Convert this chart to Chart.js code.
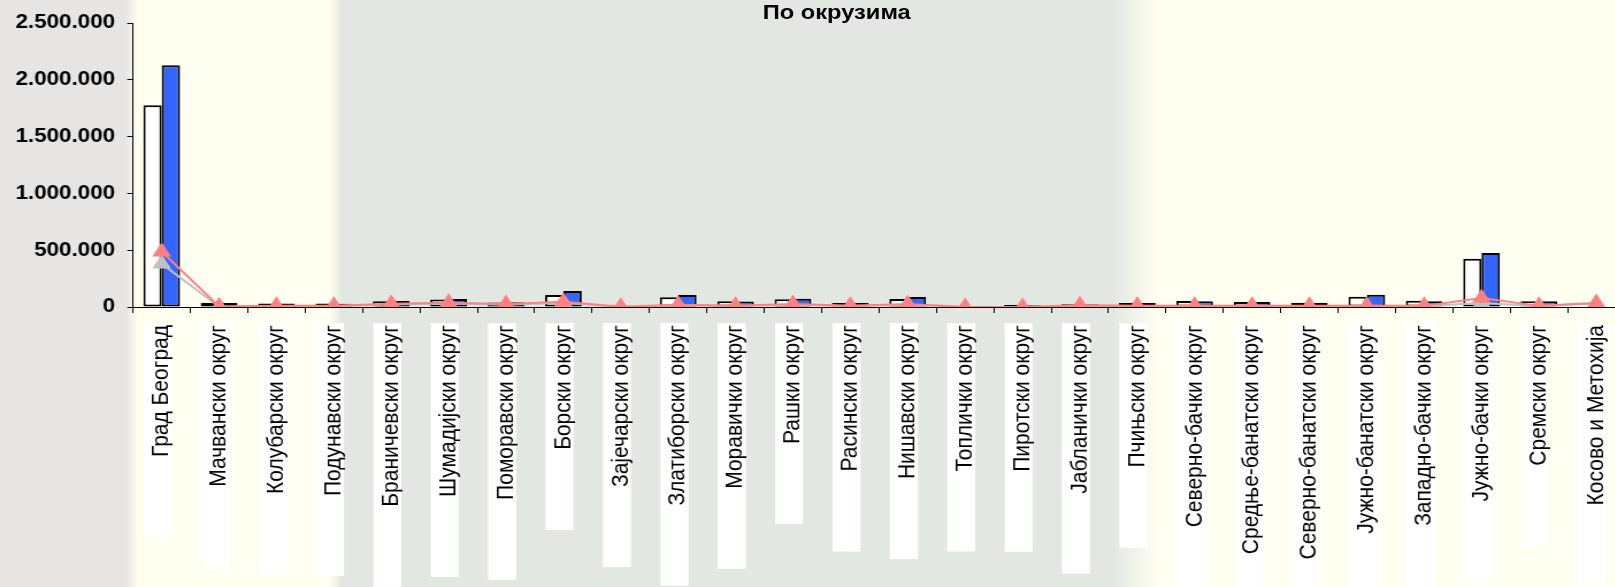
<!DOCTYPE html>
<html>
<head>
<meta charset="utf-8">
<script src="https://cdn.jsdelivr.net/npm/chart.js@4.4.0/dist/chart.umd.min.js"></script>
<style>
html,body{margin:0;padding:0;overflow:hidden;width:1615px;height:587px;}
body{
  background:
    linear-gradient(to right,
      #e7e5e3 0px, #e7e5e3 126px,
      #fffff1 138px, #fffff1 330px,
      #e3e7e1 342px, #e3e7e1 1112px,
      #fffff1 1158px, #fffff1 100%);
}
#wrap{position:absolute;left:0;top:0;width:1426px;height:587px;transform:scaleX(1.15);transform-origin:0 0;}
#title{position:absolute;left:727.6px;top:1px;transform:translateX(-50%);
  font:bold 20.6px/21px 'Liberation Sans', Arial, sans-serif;color:#000;white-space:nowrap;}
</style>
</head>
<body>
<div id="wrap"><canvas id="c"></canvas><div id="title"></div></div>
<script>
const categories = [
  'Град Београд','Мачвански округ','Колубарски округ','Подунавски округ',
  'Браничевски округ','Шумадијски округ','Поморавски округ','Борски округ',
  'Зајечарски округ','Златиборски округ','Моравички округ','Рашки округ',
  'Расински округ','Нишавски округ','Топлички округ','Пиротски округ',
  'Јабланички округ','Пчињски округ','Северно-бачки округ','Средње-банатски округ',
  'Северно-банатски округ','Јужно-банатски округ','Западно-бачки округ','Јужно-бачки округ',
  'Сремски округ','Косово и Метохија'
];
const whiteSeries = [1775000, 35000, 30000, 30000, 50000, 65000, 40000, 106000, 15000, 85000, 50000, 68000, 35000,
                     70000, 8000, 17000, 25000, 35000, 53000, 44000, 38000, 91000, 55000, 425000, 50000, 5000];
const blueSeries  = [2127000, 35000, 30000, 28000, 52000, 70000, 42000, 141000, 12000, 106000, 48000, 72000, 35000,
                     88000, 8000, 15000, 25000, 35000, 50000, 44000, 38000, 108000, 50000, 475000, 50000, 5000];
const pinkSeries  = [487000, 5000, 10000, 10000, 28000, 38000, 26000, 47000, 2000, 20000, 12000, 26000, 12000,
                     26000, 0, 0, 15000, 10000, 10000, 10000, 10000, 10000, 10000, 80000, 10000, 35000];
const graySeries  = [381000, 3000, 8000, 8000, 22000, 30000, 20000, 38000, 0, 15000, 9000, 20000, 9000,
                     20000, 0, 0, 10000, 8000, 8000, 8000, 8000, 8000, 8000, 35000, 8000, 30000];
const yTickValues = [0, 500000, 1000000, 1500000, 2000000, 2500000];
const chartTitle = 'По окрузима';

document.getElementById('title').textContent = chartTitle;

const fmt = v => String(v).replace(/\B(?=(\d{3})+(?!\d))/g, '.');

const labelBoxes = {
  id: 'labelBoxes',
  beforeDraw(chart) {
    const sx = chart.scales.x;
    const ctx = chart.ctx;
    ctx.save();
    ctx.font = "21px 'Liberation Sans', Arial, sans-serif";
    ctx.fillStyle = '#ffffff';
    categories.forEach((lab, i) => {
      const x = sx.getPixelForTick(i);
      const w = ctx.measureText(lab).width;
      const top = sx.top + 16;
      ctx.fillRect(x - 15.5, top, 24.3, w + 82);
    });
    ctx.restore();
  }
};

new Chart(document.getElementById('c'), {
  type: 'bar',
  data: {
    labels: categories,
    datasets: [
      { type: 'line', data: pinkSeries, borderColor: '#ff8080', backgroundColor: '#ff8080',
        borderWidth: 2, pointStyle: 'triangle', pointRadius: 9.5, pointBorderWidth: 0,
        pointBackgroundColor: '#ff8080', tension: 0, order: 0 },
      { type: 'line', data: graySeries, borderColor: '#c0c0c0', backgroundColor: '#c0c0c0',
        borderWidth: 2, pointStyle: 'triangle', pointRadius: 9.5, pointBorderWidth: 0,
        pointBackgroundColor: '#c0c0c0', tension: 0, order: 1 },
      { data: whiteSeries, backgroundColor: '#ffffff', borderColor: '#000000', borderWidth: 2,
        borderSkipped: false, barPercentage: 1.0, categoryPercentage: 0.64, order: 2 },
      { data: blueSeries, backgroundColor: '#3366ff', borderColor: '#000000', borderWidth: 2,
        borderSkipped: false, barPercentage: 1.0, categoryPercentage: 0.64, order: 2 }
    ]
  },
  options: {
    responsive: true,
    maintainAspectRatio: false,
    animation: false,
    layout: { padding: { left: 0, right: 12.96, top: 23, bottom: 0 } },
    plugins: {
      legend: { display: false },
      tooltip: { enabled: false },
      title: { display: false }
    },
    scales: {
      x: {
        grid: { display: true, drawOnChartArea: false, drawTicks: true, tickLength: 6, color: '#000', offset: true },
        border: { display: true, color: '#000', width: 1 },
        ticks: {
          maxRotation: 90, minRotation: 90, autoSkip: false, color: '#000', padding: 12,
          font: { family: "'Liberation Sans', Arial, sans-serif", size: 21 }
        },
        afterFit(s) { s.height = 280; }
      },
      y: {
        min: 0, max: 2500000,
        grid: { drawOnChartArea: false, drawTicks: true, tickLength: 5, color: '#000' },
        border: { display: true, color: '#000', width: 1 },
        afterBuildTicks(s) { s.ticks = yTickValues.map(v => ({ value: v })); },
        ticks: {
          color: '#000', padding: 10.5,
          font: { family: "'Liberation Sans', Arial, sans-serif", size: 19.5, weight: 'bold' },
          callback: v => fmt(v)
        },
        afterFit(s) { s.width = 115.65; }
      }
    }
  },
  plugins: [labelBoxes]
});
</script>
</body>
</html>
